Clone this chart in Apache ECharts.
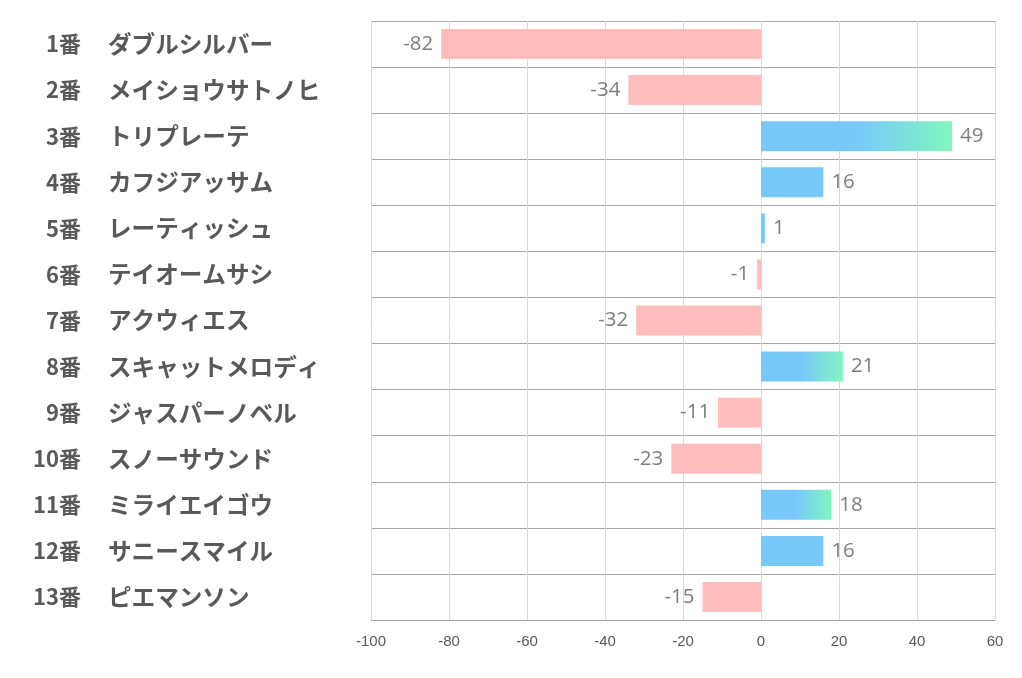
<!DOCTYPE html>
<html><head><meta charset="utf-8">
<script src="https://cdn.jsdelivr.net/npm/echarts@6/dist/echarts.min.js"></script>
<style>html,body{margin:0;padding:0;background:#fff}#c{width:1022px;height:678px}</style>
</head><body><div id="c"></div>
<script>
const numbers = ['1','2','3','4','5','6','7','8','9','10','11','12','13'];
const names = ['ダブルシルバー','メイショウサトノヒ','トリプレーテ','カフジアッサム','レーティッシュ','テイオームサシ','アクウィエス','スキャットメロディ','ジャスパーノベル','スノーサウンド','ミライエイゴウ','サニースマイル','ピエマンソン'];
const values = [-82,-34,49,16,1,-1,-32,21,-11,-23,18,16,-15];
const xTicks = {min:-100, max:60, interval:20};

const numLabels = numbers.map(n=>n+'番');
const chart = echarts.init(document.getElementById('c'));
const pink = '#FFBDBE', blue = '#78C9FB', green = '#80F6BF';
const labelFont = {fontSize:22, fontWeight:'bold', color:'#595959', fontFamily:'Noto Sans CJK JP'};
chart.setOption({
  animation:false,
  grid:{left:371, right:27, top:21, bottom:58, containLabel:false},
  xAxis:{type:'value', min:xTicks.min, max:xTicks.max, interval:xTicks.interval,
    axisLine:{show:true, lineStyle:{color:'#a6a6a6'}}, axisTick:{show:false},
    axisLabel:{color:'#595959', fontSize:15, fontFamily:'Liberation Sans Narrow, Liberation Sans, sans-serif', margin:14},
    splitLine:{show:true, lineStyle:{color:'#d9d9d9'}}},
  yAxis:[
    {type:'category', inverse:true, data:numLabels, position:'left',
      axisLine:{show:false}, axisTick:{show:false},
      splitLine:{show:true, lineStyle:{color:'#a6a6a6'}},
      axisLabel:Object.assign({align:'right', margin:290}, labelFont)},
    {type:'category', inverse:true, data:names, position:'left', offset:0,
      axisLine:{show:false}, axisTick:{show:false}, splitLine:{show:false},
      axisLabel:Object.assign({align:'left', margin:263}, labelFont, {fontSize:23.6})}
  ],
  series:[{type:'bar', barWidth:30, yAxisIndex:0,
    data:values.map(v=>({value:v,
      label:{position: v<0?'left':'right'},
      itemStyle:{color: v<0 ? pink : (v>16 ? new echarts.graphic.LinearGradient(0,0,1,0,[{offset:0,color:blue},{offset:0.5,color:blue},{offset:1,color:green}]) : blue)}})),
    label:{show:true, color:'#7f7f7f', fontSize:20.5, distance:8, fontFamily:'Open Sans, sans-serif', padding:[3,0,0,0]}
  }]
});
</script></body></html>
